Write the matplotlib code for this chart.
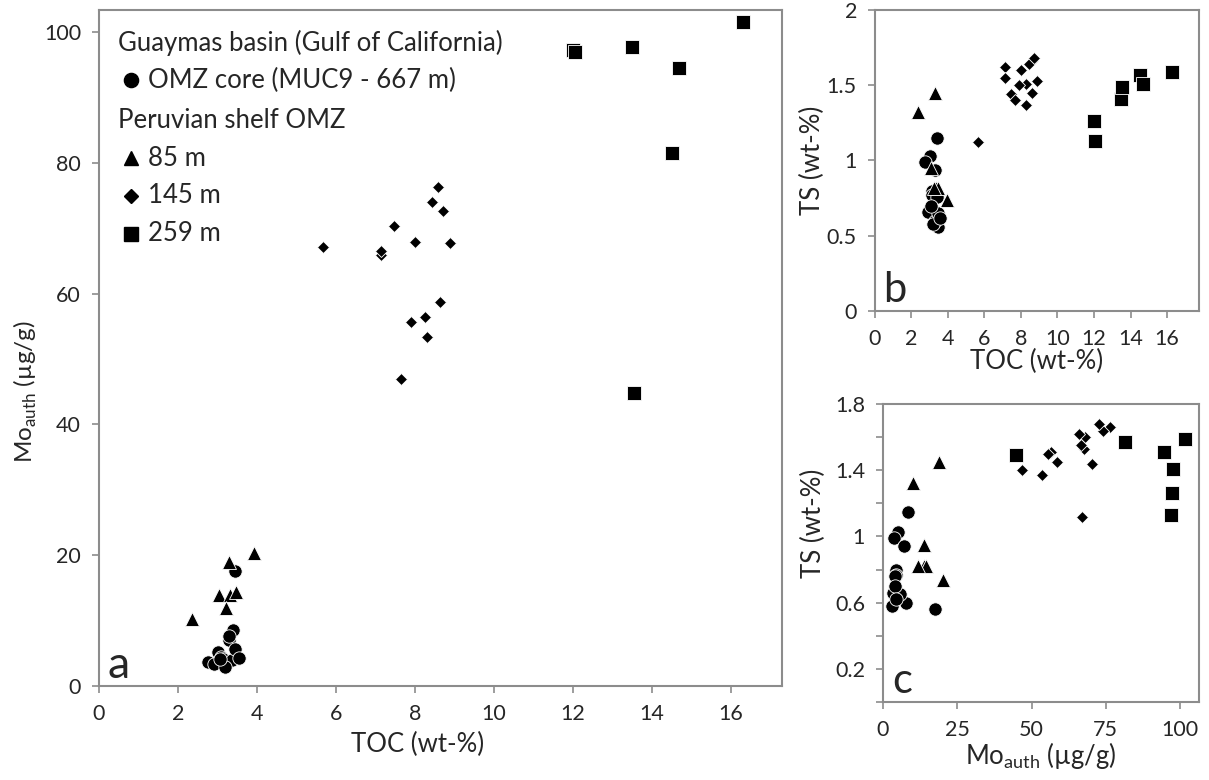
import matplotlib.pyplot as plt
from matplotlib.ticker import MultipleLocator, FuncFormatter, FixedLocator

plt.rcParams['font.family'] = ['Lato', 'DejaVu Sans']

# Guaymas basin, OMZ core (MUC9 - 667 m)
omz_toc = [3.45, 3.40, 3.02, 2.75, 3.30, 3.10, 3.15, 3.38, 2.92, 3.30, 3.45, 3.20, 3.06, 3.55]
omz_mo = [17.6, 8.5, 5.2, 3.6, 7.1, 4.4, 4.2, 4.0, 3.3, 7.6, 5.6, 2.9, 4.1, 4.3]
omz_ts = [0.56, 1.15, 1.03, 0.99, 0.94, 0.80, 0.77, 0.76, 0.66, 0.60, 0.65, 0.58, 0.70, 0.62]

# Peruvian shelf OMZ, 85 m
s85_toc = [3.92, 3.29, 3.05, 3.32, 3.47, 3.21, 2.35]
s85_mo = [20.3, 19.0, 13.9, 13.9, 14.4, 11.9, 10.2]
s85_ts = [0.74, 1.45, 0.95, 0.82, 0.82, 0.82, 1.32]

# Peruvian shelf OMZ, 145 m
s145_toc = [8.58, 8.44, 8.72, 7.48, 8.00, 8.89, 5.67, 7.15, 7.15, 8.63, 8.25, 7.90, 8.30, 7.65]
s145_mo = [76.3, 74.0, 72.7, 70.4, 67.9, 67.8, 67.1, 65.9, 66.5, 58.7, 56.4, 55.7, 53.4, 46.9]
s145_ts = [1.66, 1.64, 1.68, 1.44, 1.60, 1.53, 1.12, 1.62, 1.55, 1.45, 1.51, 1.50, 1.37, 1.40]

# Peruvian shelf OMZ, 259 m
s259_toc = [12.0, 12.05, 13.5, 13.55, 14.5, 14.7, 16.3]
s259_mo = [97.3, 96.9, 97.7, 44.8, 81.5, 94.5, 101.5]
s259_ts = [1.26, 1.13, 1.41, 1.49, 1.57, 1.51, 1.59]

legend_labels = ['OMZ core (MUC9 - 667 m)', '85 m', '145 m', '259 m']

spine_col = '#8c8c8c'
txt_col = '#262626'

series = [
    (omz_toc, omz_mo, omz_ts, 'o', 9.6),
    (s85_toc, s85_mo, s85_ts, '^', 9.6),
    (s145_toc, s145_mo, s145_ts, 'D', 6.0),
    (s259_toc, s259_mo, s259_ts, 's', 10.0),
]

fig = plt.figure(figsize=(12.09, 7.80), dpi=100)
ax_a = fig.add_axes([0.0819, 0.1205, 0.565, 0.8667])
ax_b = fig.add_axes([0.7237, 0.6013, 0.268, 0.3859])
ax_c = fig.add_axes([0.7304, 0.1, 0.2614, 0.382])


def style(ax):
    for sp in ax.spines.values():
        sp.set_color(spine_col)
        sp.set_linewidth(1.5)
    ax.tick_params(direction='out', length=5, width=1.2, color=spine_col,
                   labelsize=15.5, labelcolor=txt_col, pad=8)
    fmt = FuncFormatter(lambda v, p: '%g' % round(v, 3))
    ax.xaxis.set_major_formatter(fmt)
    ax.yaxis.set_major_formatter(fmt)


for toc, mo, ts, mk, ms in series:
    kw = dict(ls='none', marker=mk, ms=ms, mfc='black', mec='white', mew=0.6)
    ax_a.plot(toc, mo, **kw)
    ax_b.plot(toc, ts, **kw)
    ax_c.plot(mo, ts, **kw)

# panel a
style(ax_a)
ax_a.set_xlim(0, 17.3)
ax_a.set_ylim(0, 103.4)
ax_a.xaxis.set_major_locator(MultipleLocator(2))
ax_a.yaxis.set_major_locator(MultipleLocator(20))
ax_a.set_xlabel('TOC (wt-%)', fontsize=18.5, color=txt_col)
ax_a.set_ylabel('Mo$_{\\mathregular{auth}}$ (µg/g)', fontsize=17.5, color=txt_col)
ax_a.xaxis.set_label_coords(0.466, -0.068)
ax_a.yaxis.set_label_coords(-0.088, 0.435)
ax_a.text(0.012, 0.0, 'a', transform=ax_a.transAxes, fontsize=32, color=txt_col,
          ha='left', va='bottom')

# legend drawn as rows of text
rows_y = [0.951, 0.896, 0.836, 0.781, 0.725, 0.669]
ax_a.text(0.028, rows_y[0], 'Guaymas basin (Gulf of California)', transform=ax_a.transAxes,
          fontsize=18.5, color=txt_col, va='center')
ax_a.text(0.028, rows_y[2], 'Peruvian shelf OMZ', transform=ax_a.transAxes,
          fontsize=18.5, color=txt_col, va='center')
for y, (_, _, _, mk, ms), lab in zip([rows_y[1]] + rows_y[3:], series, legend_labels):
    ax_a.plot([0.047], [y], transform=ax_a.transAxes, ls='none', marker=mk,
              ms=ms + 0.6 if mk != 'D' else 7.2, mfc='black', mec='black')
    ax_a.text(0.072, y, lab, transform=ax_a.transAxes, fontsize=18.5, color=txt_col, va='center')

# panel b
style(ax_b)
ax_b.set_xlim(0, 17.75)
ax_b.set_ylim(0, 2)
ax_b.xaxis.set_major_locator(FixedLocator(range(0, 17, 2)))
ax_b.yaxis.set_major_locator(MultipleLocator(0.5))
ax_b.set_xlabel('TOC (wt-%)', fontsize=18.5, color=txt_col, labelpad=0)
ax_b.set_ylabel('TS (wt-%)', fontsize=18.5, color=txt_col)
ax_b.yaxis.set_label_coords(-0.155, 0.5)
ax_b.text(0.025, 0.03, 'b', transform=ax_b.transAxes, fontsize=30, color=txt_col,
          ha='left', va='baseline')

# panel c
style(ax_c)
ax_c.set_xlim(0, 106.4)
ax_c.set_ylim(0, 1.8)
ax_c.xaxis.set_major_locator(FixedLocator([0, 25, 50, 75, 100]))
ax_c.yaxis.set_major_locator(MultipleLocator(0.2))
ax_c.yaxis.set_major_formatter(
    FuncFormatter(lambda v, p: '%g' % round(v, 3) if round(v * 10) % 4 == 2 else ''))
ax_c.set_xlabel('Mo$_{\\mathregular{auth}}$ (µg/g)', fontsize=18.5, color=txt_col, labelpad=0)
ax_c.set_ylabel('TS (wt-%)', fontsize=18.5, color=txt_col)
ax_c.yaxis.set_label_coords(-0.18, 0.6)
ax_c.text(0.03, 0.03, 'c', transform=ax_c.transAxes, fontsize=30, color=txt_col,
          ha='left', va='baseline')

fig.savefig('out.png', dpi=100)
